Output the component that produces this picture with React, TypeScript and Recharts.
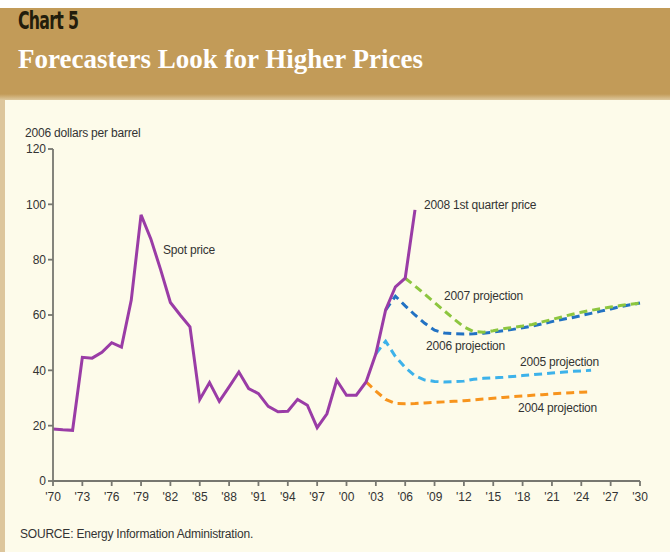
import { LineChart, Line, XAxis, YAxis } from "recharts";

// spot price, 2006 dollars per barrel (last point is the 2008 Q1 price)
const SPOT_START = 1970;
const SPOT_PRICE = [
  18.8, 18.5, 18.3, 44.7, 44.4, 46.5, 50, 48.4, 65.4, 96.2,
  87.5, 76.4, 64.5, 60, 55.7, 29.5, 35.6, 28.8, 34, 39.4,
  33.4, 31.6, 27, 25, 25.2, 29.5, 27.4, 19.3, 24.3, 36.4,
  31, 31, 35.8, 46, 61.8, 70.2, 73.3, 98,
];

const PROJ_2007_START = 2006;
const PROJ_2007 = [
  73.3, 70.5, 67.5, 64.5, 61.5, 58.5, 55.7, 54, 53.8, 54.3,
  55, 55.5, 56, 56.6, 57.5, 58.4, 59.3, 60.2, 61, 61.7,
  62.3, 62.9, 63.4, 63.9, 64.3,
];

const PROJ_2006_START = 2004;
const PROJ_2006 = [
  61.8, 66.8, 63.3, 60, 57, 54.5, 53.5, 53.2, 53.1, 53.2,
  53.4, 53.8, 54.3, 54.8, 55.4, 56, 56.8, 57.6, 58.4, 59,
  59.8, 60.6, 61.4, 62.2, 63, 63.7, 64.3,
];

const PROJ_2005_START = 2003;
const PROJ_2005 = [
  46, 50.5, 45, 41, 38, 36.5, 36, 35.8, 35.9, 36.1,
  36.8, 37.1, 37.3, 37.5, 37.8, 38.1, 38.4, 38.7, 39, 39.3,
  39.6, 39.8, 40,
];

const PROJ_2004_START = 2002;
const PROJ_2004 = [
  35.8, 32.5, 29.5, 28, 27.9, 28, 28.2, 28.4, 28.6, 28.8,
  29, 29.3, 29.6, 29.9, 30.2, 30.5, 30.7, 31, 31.2, 31.5,
  31.7, 31.9, 32.1, 32.2,
];

const X_TICKS = [
  1970, 1973, 1976, 1979, 1982, 1985, 1988, 1991, 1994, 1997, 2000,
  2003, 2006, 2009, 2012, 2015, 2018, 2021, 2024, 2027, 2030,
];
const Y_TICKS = [0, 20, 40, 60, 80, 100, 120];

type Row = { year: number; [k: string]: number };

function buildRows() {
  const rows: Record<number, Row> = {};
  const add = (key: string, start: number, vals: number[]) => {
    vals.forEach((v, i) => {
      const y = start + i;
      if (!rows[y]) rows[y] = { year: y };
      rows[y][key] = v;
    });
  };
  add("spot", SPOT_START, SPOT_PRICE);
  add("p2007", PROJ_2007_START, PROJ_2007);
  add("p2006", PROJ_2006_START, PROJ_2006);
  add("p2005", PROJ_2005_START, PROJ_2005);
  add("p2004", PROJ_2004_START, PROJ_2004);
  return Object.values(rows).sort((a, b) => a.year - b.year);
}

const data = buildRows();

const CREAM = "#FDFBEA";
const TAN = "#C29B58";
const small = "'Liberation Sans', Arial, sans-serif";

const note = (left: number, top: number, text: string, size = 12) => (
  <div
    style={{
      position: "absolute",
      left,
      top,
      fontFamily: small,
      fontSize: size,
      lineHeight: "14px",
      color: "#333",
      whiteSpace: "nowrap",
      letterSpacing: -0.2,
    }}
  >
    {text}
  </div>
);

export default function App() {
  return (
    <div
      style={{
        position: "fixed",
        left: 0,
        top: 0,
        width: 670,
        height: 554,
        background: "#fff",
        overflow: "hidden",
      }}
    >
      {/* header band */}
      <div
        style={{
          position: "absolute",
          left: 0,
          top: 8,
          width: 670,
          height: 100,
          background: `linear-gradient(to bottom, ${TAN} 0px, ${TAN} 86px, #E2CFA8 93px, ${CREAM} 100px)`,
        }}
      />
      <div
        style={{
          position: "absolute",
          left: 0,
          top: 100,
          width: 670,
          height: 452,
          background: CREAM,
          borderLeft: "5px solid #DDC69C",
          boxSizing: "border-box",
        }}
      />
      <div
        style={{
          position: "absolute",
          left: 18,
          top: 6,
          fontFamily: "'Liberation Sans Narrow', 'DejaVu Sans Condensed', sans-serif",
          fontSize: 25,
          fontWeight: "bold",
          color: "#231D0C",
          transform: "scaleX(0.7)",
          transformOrigin: "left",
          letterSpacing: -1,
        }}
      >
        Chart 5
      </div>
      <div
        style={{
          position: "absolute",
          left: 18,
          top: 44,
          fontFamily: "'Liberation Serif', 'DejaVu Serif', serif",
          fontWeight: "bold",
          fontSize: 27,
          color: "#fff",
          whiteSpace: "nowrap",
        }}
      >
        Forecasters Look for Higher Prices
      </div>

      <div style={{ position: "absolute", left: 0, top: 0 }}>
        <LineChart
          width={670}
          height={554}
          data={data}
          margin={{ top: 149, right: 30, bottom: 43, left: 8 }}
        >
          <XAxis
            dataKey="year"
            type="number"
            domain={[1970, 2030]}
            ticks={X_TICKS}
            interval={0}
            height={30}
            tickFormatter={(v: number) => "'" + String(v).slice(2)}
            stroke="#777770"
            strokeWidth={1.8}
            tickSize={5}
            tick={{ fontSize: 12, fill: "#333", fontFamily: small, dy: 4 }}
          />
          <YAxis
            type="number"
            domain={[0, 120]}
            ticks={Y_TICKS}
            width={45}
            stroke="#777770"
            strokeWidth={1.8}
            tickSize={5}
            tick={{ fontSize: 12, fill: "#333", fontFamily: small }}
          />
          <Line dataKey="p2004" stroke="#F7941D" strokeWidth={3} strokeDasharray="8 5" dot={false} isAnimationActive={false} />
          <Line dataKey="p2005" stroke="#3DB2EA" strokeWidth={3} strokeDasharray="8 5" dot={false} isAnimationActive={false} />
          <Line dataKey="p2006" stroke="#2272C3" strokeWidth={3} strokeDasharray="8 5" dot={false} isAnimationActive={false} />
          <Line dataKey="p2007" stroke="#8DC63F" strokeWidth={3} strokeDasharray="8 5" dot={false} isAnimationActive={false} />
          <Line dataKey="spot" stroke="#9A3CA6" strokeWidth={3} dot={false} isAnimationActive={false} />
        </LineChart>
      </div>

      {note(25, 126, "2006 dollars per barrel")}
      {note(163, 243, "Spot price")}
      {note(424, 198, "2008 1st quarter price")}
      {note(444, 289, "2007 projection")}
      {note(426, 339, "2006 projection")}
      {note(520, 355, "2005 projection")}
      {note(518, 401, "2004 projection")}
      {note(20, 527, "SOURCE: Energy Information Administration.")}
    </div>
  );
}
